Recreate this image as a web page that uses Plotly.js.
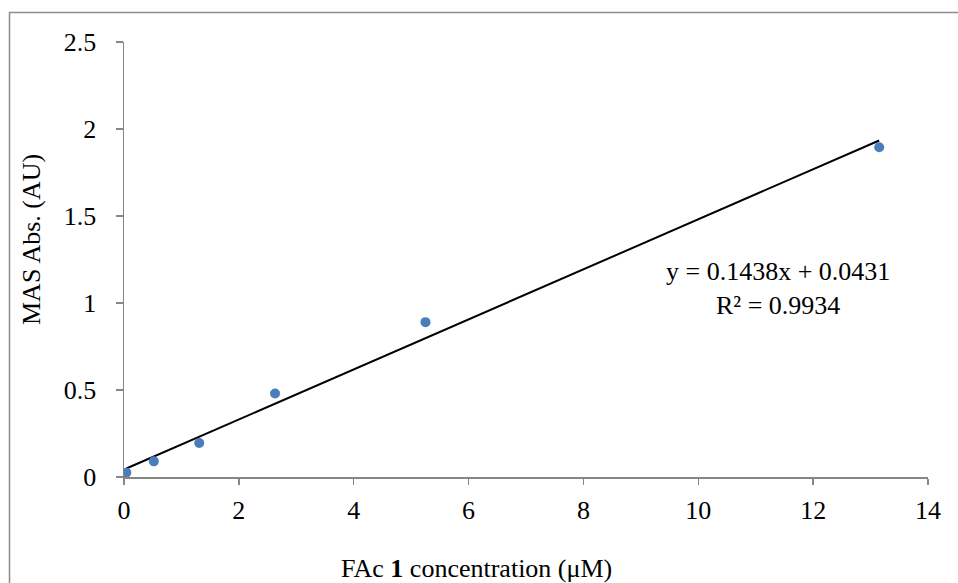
<!DOCTYPE html>
<html>
<head>
<meta charset="utf-8">
<script src="https://cdn.plot.ly/plotly-3.0.1.min.js"></script>
<style>html,body{margin:0;padding:0;background:#fff;}#chart{width:958px;height:583px;}</style>
</head>
<body>
<div id="chart"></div>
<script>
// Data
const concentration = [0.04, 0.52, 1.31, 2.63, 5.25, 13.15];
const absorbance = [0.025, 0.09, 0.195, 0.48, 0.89, 1.895];
const slope = 0.1438;
const intercept = 0.0431;
const equationText = "y = 0.1438x + 0.0431<br>R² = 0.9934";
const xTicks = [0, 2, 4, 6, 8, 10, 12, 14];
const yTicks = [0, 0.5, 1, 1.5, 2, 2.5];
const yTickLabels = ["0", "0.5", "1", "1.5", "2", "2.5"];

const xMin = Math.min(...concentration), xMax = Math.max(...concentration);
const trendX = [xMin, xMax];
const trendY = trendX.map(v => slope * v + intercept);

const font = {family: "Times New Roman", size: 26, color: "#000"};

const data = [
  {x: trendX, y: trendY, mode: "lines", line: {color: "#000", width: 2}, hoverinfo: "skip", showlegend: false},
  {x: concentration, y: absorbance, mode: "markers", marker: {color: "#4A7EBB", size: 10}, showlegend: false}
];

const axisCommon = {
  showgrid: false, zeroline: false, showline: true, linecolor: "#868686", linewidth: 1.5,
  ticks: "outside", tickcolor: "#868686", tickwidth: 1.5, tickfont: font
};

const layout = {
  width: 958, height: 583,
  margin: {l: 124, r: 30, t: 42, b: 106},
  paper_bgcolor: "#fff", plot_bgcolor: "#fff",
  font: font,
  xaxis: Object.assign({}, axisCommon, {range: [0, 14], tickvals: xTicks, ticktext: xTicks.map(String), ticklen: 6, ticklabelstandoff: 3}),
  yaxis: Object.assign({}, axisCommon, {range: [0, 2.5], tickvals: yTicks, ticktext: yTickLabels, ticklen: 7, ticklabelstandoff: 14}),
  shapes: [
    {type: "rect", xref: "paper", yref: "paper", x0: -0.1424, x1: 1.06, y0: -0.28, y1: 1.0678,
     line: {color: "#8c8c8c", width: 1.5}, fillcolor: "rgba(0,0,0,0)", layer: "below"}
  ],
  annotations: [
    {xref: "paper", yref: "paper", x: (476 - 124) / 804, y: (477 - 568) / 435, text: "FAc <b>1</b> concentration (μM)",
     showarrow: false, font: font, xanchor: "center", yanchor: "middle"},
    {xref: "paper", yref: "paper", x: (31 - 124) / 804, y: (477 - 240) / 435, text: "MAS Abs. (AU)", textangle: -90,
     showarrow: false, font: font, xanchor: "center", yanchor: "middle"},
    {xref: "paper", yref: "paper", x: (778 - 124) / 804, y: (477 - 288) / 435, text: equationText,
     showarrow: false, font: font, align: "center", xanchor: "center", yanchor: "middle"}
  ]
};

Plotly.newPlot("chart", data, layout, {displayModeBar: false, staticPlot: true});
</script>
</body>
</html>
